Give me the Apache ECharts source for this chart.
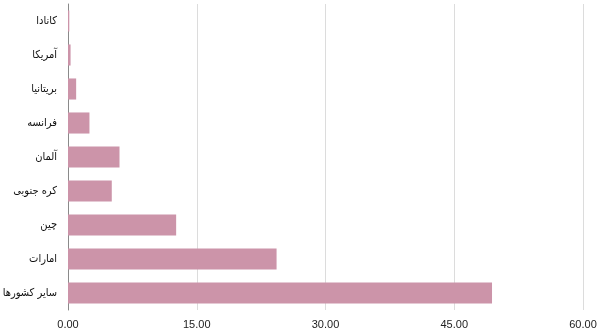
<!DOCTYPE html>
<html><head><meta charset="utf-8">
<script src="https://cdn.jsdelivr.net/npm/echarts@6/dist/echarts.min.js"></script>
<style>html,body{margin:0;padding:0;background:#fff}#c{width:600px;height:336px}</style>
</head><body><div id="c"></div>
<script>
const categories = ["کانادا","آمریکا","بریتانیا","فرانسه","آلمان","کره جنوبی","چین","امارات","سایر کشورها"];
const values = [0.15, 0.3, 0.95, 2.5, 6.0, 5.1, 12.6, 24.3, 49.4];
const xTicks = [0, 15, 30, 45, 60];

const chart = echarts.init(document.getElementById('c'));
chart.setOption({
  animation: false,
  grid: {left: 68, right: 17, top: 4, bottom: 26, containLabel: false, outerBoundsMode: 'none'},
  xAxis: {
    type: 'value', min: xTicks[0], max: xTicks[xTicks.length-1], interval: 15,
    axisLine: {show: false}, axisTick: {show: false},
    splitLine: {show: true, lineStyle: {color: '#dcdcdc', width: 1}},
    axisLabel: {color: '#222', fontSize: 11, fontFamily: 'Liberation Sans', margin: 9,
      formatter: v => v.toFixed(2)}
  },
  yAxis: {
    type: 'category', data: categories, inverse: true,
    axisLine: {show: true, lineStyle: {color: '#8a8a8a', width: 1}},
    axisTick: {show: false},
    axisLabel: {color: '#111', fontSize: 11, fontFamily: 'DejaVu Sans Condensed', margin: 11}
  },
  series: [{
    type: 'bar', data: values, barCategoryGap: '38%',
    itemStyle: {color: '#cc94a9'}
  }]
});
</script></body></html>
